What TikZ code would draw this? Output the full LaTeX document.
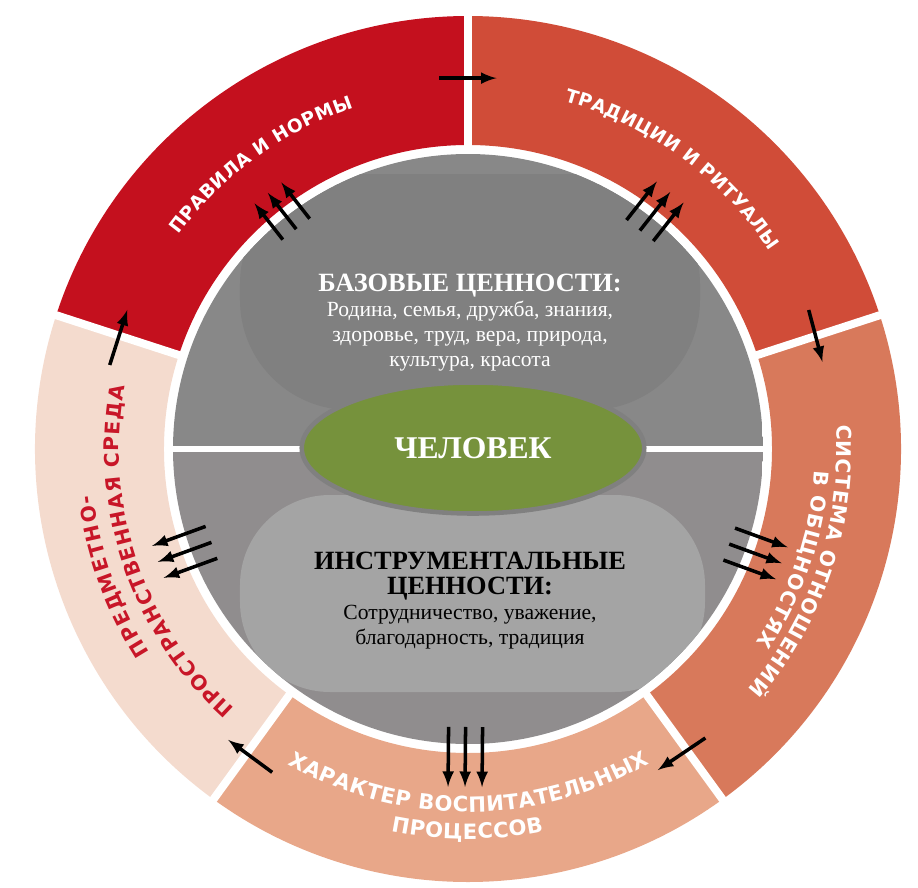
\documentclass[tikz,border=0pt]{standalone}
\usepackage{fontspec}
\setmainfont{Liberation Serif}
\newfontfamily\ringfont{DejaVu Sans}
\usepackage{tikz}
\usetikzlibrary{shapes.geometric, arrows, decorations.text}

\definecolor{rulesred}{RGB}{196,16,30}
\definecolor{tradred}{RGB}{208,76,56}
\definecolor{relsalmon}{RGB}{216,121,91}
\definecolor{procsalmon}{RGB}{232,167,137}
\definecolor{envbeige}{RGB}{244,219,206}
\definecolor{envred}{RGB}{200,22,40}
\definecolor{topgray}{RGB}{136,136,136}
\definecolor{topcloud}{RGB}{128,128,128}
\definecolor{lowgray}{RGB}{144,141,142}
\definecolor{lowcloud}{RGB}{164,164,164}
\definecolor{persongreen}{RGB}{118,146,60}
\definecolor{personrim}{RGB}{128,128,128}

\begin{document}
\begin{tikzpicture}[
    person/.style={ellipse, draw=personrim, line width=2.6pt, fill=persongreen, minimum width=6.85cm, minimum height=2.62cm, text=white, font=\fontsize{18}{21}\selectfont\bfseries},
    values/.style={align=center, font=\fontsize{12.3}{14.2}\selectfont},
    arrow/.style={-latex, line width=2pt, draw=black},
    gap/.style={draw=white, line width=0.16cm},
    ringlabel/.style={decorate, decoration={text along path, text align=fit to path, text={#1}}}
]
    \useasboundingbox (-9.36,-8.76) rectangle (9.0,8.98);

    % outer ring
    \fill[rulesred] (90:6.08) arc[start angle=90, end angle=162, radius=6.08] -- (162:8.66) arc[start angle=162, end angle=90, radius=8.66] -- cycle;
    \fill[tradred] (18:6.08) arc[start angle=18, end angle=90, radius=6.08] -- (90:8.66) arc[start angle=90, end angle=18, radius=8.66] -- cycle;
    \fill[relsalmon] (-54:6.08) arc[start angle=-54, end angle=18, radius=6.08] -- (18:8.66) arc[start angle=18, end angle=-54, radius=8.66] -- cycle;
    \fill[procsalmon] (-126:6.08) arc[start angle=-126, end angle=-54, radius=6.08] -- (-54:8.66) arc[start angle=-54, end angle=-126, radius=8.66] -- cycle;
    \fill[envbeige] (162:6.08) arc[start angle=162, end angle=234, radius=6.08] -- (234:8.66) arc[start angle=234, end angle=162, radius=8.66] -- cycle;
    \draw[gap] (90:5.95) -- (90:8.8);
    \draw[gap] (162:5.95) -- (162:8.8);
    \draw[gap] (234:5.95) -- (234:8.8);
    \draw[gap] (306:5.95) -- (306:8.8);
    \draw[gap] (18:5.95) -- (18:8.8);

    % inner disk
    \begin{scope}
        \clip (0,0) circle (5.9);
        \fill[topgray] (-5.9,0) rectangle (5.9,5.9);
        \fill[topcloud, rounded corners=2.2cm] (-4.56,0.78) rectangle (4.64,5.5);
        \fill[lowgray] (-5.9,0) rectangle (5.9,-5.9);
        \fill[lowcloud, rounded corners=1.8cm] (-4.56,-0.92) rectangle (4.74,-4.86);
    \end{scope}
    \draw[white, line width=0.12cm] (180:5.9) -- (0:5.9);

    % ring labels
    \path[ringlabel={|\ringfont\bfseries\fontsize{10.5}{12}\selectfont\color{white}|ПРАВИЛА И НОРМЫ}] (143.5:7.2) arc[start angle=143.5, end angle=108.5, radius=7.2];
    \path[ringlabel={|\ringfont\bfseries\fontsize{10.5}{12}\selectfont\color{white}|ТРАДИЦИИ И РИТУАЛЫ}] (74.5:7.22) arc[start angle=74.5, end angle=33.3, radius=7.22];
    \path[ringlabel={|\ringfont\bfseries\fontsize{11.5}{13}\selectfont\color{white}|СИСТЕМА ОТНОШЕНИЙ}] (3.7:7.38) arc[start angle=3.7, end angle=-40.7, radius=7.38];
    \path[ringlabel={|\ringfont\bfseries\fontsize{11.5}{13}\selectfont\color{white}|В ОБЩНОСТЯХ}] (-3.5:6.94) arc[start angle=-3.5, end angle=-34, radius=6.94];
    \path[ringlabel={|\ringfont\bfseries\fontsize{12}{14}\selectfont\color{white}|ХАРАКТЕР ВОСПИТАТЕЛЬНЫХ}] (240.2:7.26) arc[start angle=240.2, end angle=300, radius=7.26];
    \path[ringlabel={|\ringfont\bfseries\fontsize{12}{14}\selectfont\color{white}|ПРОЦЕССОВ}] (258.6:7.8) arc[start angle=258.6, end angle=281.2, radius=7.8];
    \path[ringlabel={|\ringfont\bfseries\fontsize{11.5}{13}\selectfont\color{envred}|ПРЕДМЕТНО-}] (212.5:7.56) arc[start angle=212.5, end angle=187, radius=7.56];
    \path[ringlabel={|\ringfont\bfseries\fontsize{11.5}{13}\selectfont\color{envred}|ПРОСТРАНСТВЕННАЯ СРЕДА}] (228:6.98) arc[start angle=228, end angle=169.6, radius=6.98];

    % centre
    \node[person] (man) at (0.1,0.02) {ЧЕЛОВЕК};
    \node[values, text=white] (basic) at (0.04,2.52) {{\fontsize{15}{15.5}\selectfont\bfseries БАЗОВЫЕ ЦЕННОСТИ:}\\ Родина, семья, дружба, знания,\\ здоровье, труд, вера, природа,\\ культура, красота};
    \node[values, text=black] (instr) at (0.04,-3.03) {{\fontsize{15}{16.5}\selectfont\bfseries ИНСТРУМЕНТАЛЬНЫЕ}\\ {\fontsize{15}{17.5}\selectfont\bfseries ЦЕННОСТИ:}\\ Сотрудничество, уважение,\\ благодарность, традиция};

    % arrows between the ring parts
    \draw[arrow] (94.4:7.44) -- (85.6:7.44);
    \draw[arrow] (22.2:7.36) -- (13.8:7.3);
    \draw[arrow] (-50.6:7.48) -- (-59.4:7.46);
    \draw[arrow] (238.8:7.56) -- (230.5:7.54);
    \draw[arrow] (166.8:7.36) -- (157.8:7.36);

    % arrows from the centre
    \begin{scope}[rotate=128]
        \draw[arrow] (5.58,-0.34) -- (6.5,-0.34);
        \draw[arrow] (5.58,0) -- (6.5,0);
        \draw[arrow] (5.58,0.34) -- (6.5,0.34);
    \end{scope}
    \begin{scope}[rotate=51.8]
        \draw[arrow] (5.56,-0.34) -- (6.54,-0.34);
        \draw[arrow] (5.56,0) -- (6.54,0);
        \draw[arrow] (5.56,0.34) -- (6.54,0.34);
    \end{scope}
    \begin{scope}[rotate=-20]
        \draw[arrow] (5.56,-0.34) -- (6.68,-0.34);
        \draw[arrow] (5.56,0) -- (6.68,0);
        \draw[arrow] (5.56,0.34) -- (6.68,0.34);
    \end{scope}
    \begin{scope}[rotate=-90.5]
        \draw[arrow] (5.56,-0.34) -- (6.76,-0.34);
        \draw[arrow] (5.56,0) -- (6.76,0);
        \draw[arrow] (5.56,0.34) -- (6.76,0.34);
    \end{scope}
    \begin{scope}[rotate=200]
        \draw[arrow] (5.46,-0.34) -- (6.6,-0.34);
        \draw[arrow] (5.46,0) -- (6.6,0);
        \draw[arrow] (5.46,0.34) -- (6.6,0.34);
    \end{scope}
\end{tikzpicture}
\end{document}
